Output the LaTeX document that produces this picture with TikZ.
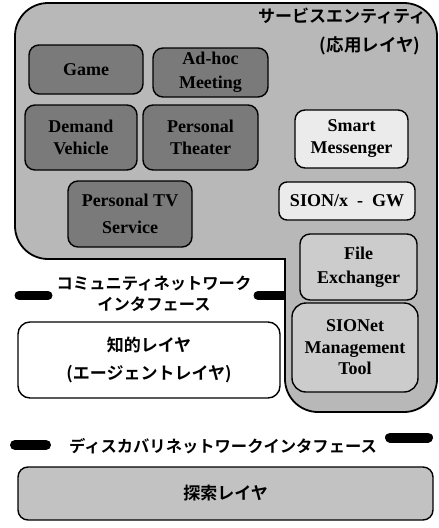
\documentclass[tikz,border=0pt]{standalone}
\usepackage{fontspec}
\setmainfont{Liberation Serif}
\newfontfamily\latf{Liberation Serif}
\newfontfamily\jp{Noto Sans CJK JP}[BoldFont={Noto Sans CJK JP Bold}]
\begin{document}
\begin{tikzpicture}[x=1pt,y=-1pt,
  box/.style={draw=black, line width=1.4pt, rounded corners=10pt, inner sep=0pt, align=center,
              font=\latf\bfseries\fontsize{18}{22}\selectfont},
  dark/.style={box, fill=black!52},
  light/.style={box, fill=black!8},
  mid/.style={box, fill=black!20},
  jbox/.style={draw=black, line width=1.4pt, rounded corners=12pt, inner sep=0pt, align=center,
              font=\jp\bfseries\fontsize{17}{28}\selectfont},
  jtext/.style={inner sep=0pt, align=center, font=\jp\bfseries\fontsize{16.3}{21}\selectfont},
  bar/.style={line width=9pt, line cap=round}
]
\useasboundingbox (0,0) rectangle (439,528);

% community network interface bars
\coordinate (cl1) at (19,295.5); \coordinate (cl2) at (48,295.5);
\coordinate (cr1) at (258,295.5); \coordinate (cr2) at (290,295.5);
\draw[bar] (cl1) -- (cl2);
\draw[bar] (cr1) -- (cr2);

% service entity outer shape
\draw[line width=1.8pt, fill=black!28]
  (150,259) [rounded corners=33pt] -- (15,259) -- (15,3) -- (437,3) -- (437,412)
  -- (285,412) -- (285,300) [sharp corners] -- (285,259) -- cycle;

\node[jtext, font=\jp\bfseries\fontsize{17}{21}\selectfont] (t1) at (342,16) {サービスエンティティ};
\node[jtext, font=\jp\bfseries\fontsize{17.5}{21}\selectfont] (t2) at (370,46) {(応用レイヤ)};

% application boxes
\node[dark, minimum width=114pt, minimum height=49pt] (game) at (86,69.5) {Game};
\node[dark, minimum width=115pt, minimum height=49pt, font=\latf\bfseries\fontsize{18}{24}\selectfont] (adhoc) at (210.5,72.5) {Ad-hoc\\Meeting};
\node[dark, minimum width=112pt, minimum height=65pt] (demand) at (81,137.5) {Demand\\Vehicle};
\node[dark, minimum width=115pt, minimum height=65pt] (theater) at (200.5,137.5) {Personal\\Theater};
\node[dark, minimum width=124pt, minimum height=66pt, font=\latf\bfseries\fontsize{18}{27}\selectfont] (tv) at (130,214) {Personal TV\\Service};

\node[light, minimum width=113pt, minimum height=58pt] (smart) at (351.5,139) {Smart\\Messenger};
\node[light, minimum width=136pt, minimum height=38pt, rounded corners=8pt] (sion) at (347,201) {SION/x\ \ -\ \ GW};
\node[mid, minimum width=117pt, minimum height=66pt, font=\latf\bfseries\fontsize{18}{24}\selectfont] (file) at (358.5,267) {File\\Exchanger};
\node[mid, minimum width=126pt, minimum height=89pt, rounded corners=14pt, font=\latf\bfseries\fontsize{18}{21.5}\selectfont] (sionet) at (355,347.5) {SIONet\\Management\\Tool};

% community interface label
\node[jtext] (comm) at (154,293.5) {コミュニティネットワーク\\インタフェース};

% intelligent layer
\node[jbox, fill=white, minimum width=262pt, minimum height=76pt] (chiteki) at (149,360) {知的レイヤ\\(エージェントレイヤ)};

% discovery network interface
\coordinate (dl1) at (15,445); \coordinate (dl2) at (46,445);
\coordinate (dr1) at (390,437.5); \coordinate (dr2) at (428,437.5);
\draw[bar, line width=10pt] (dl1) -- (dl2);
\draw[bar, line width=10pt] (dr1) -- (dr2);
\node[jtext] (disc) at (223,446) {ディスカバリネットワークインタフェース};

% search layer
\node[jbox, fill=black!24, rounded corners=10pt, minimum width=415pt, minimum height=53pt] (tansaku) at (225.5,493.5) {探索レイヤ};
\end{tikzpicture}
\end{document}
